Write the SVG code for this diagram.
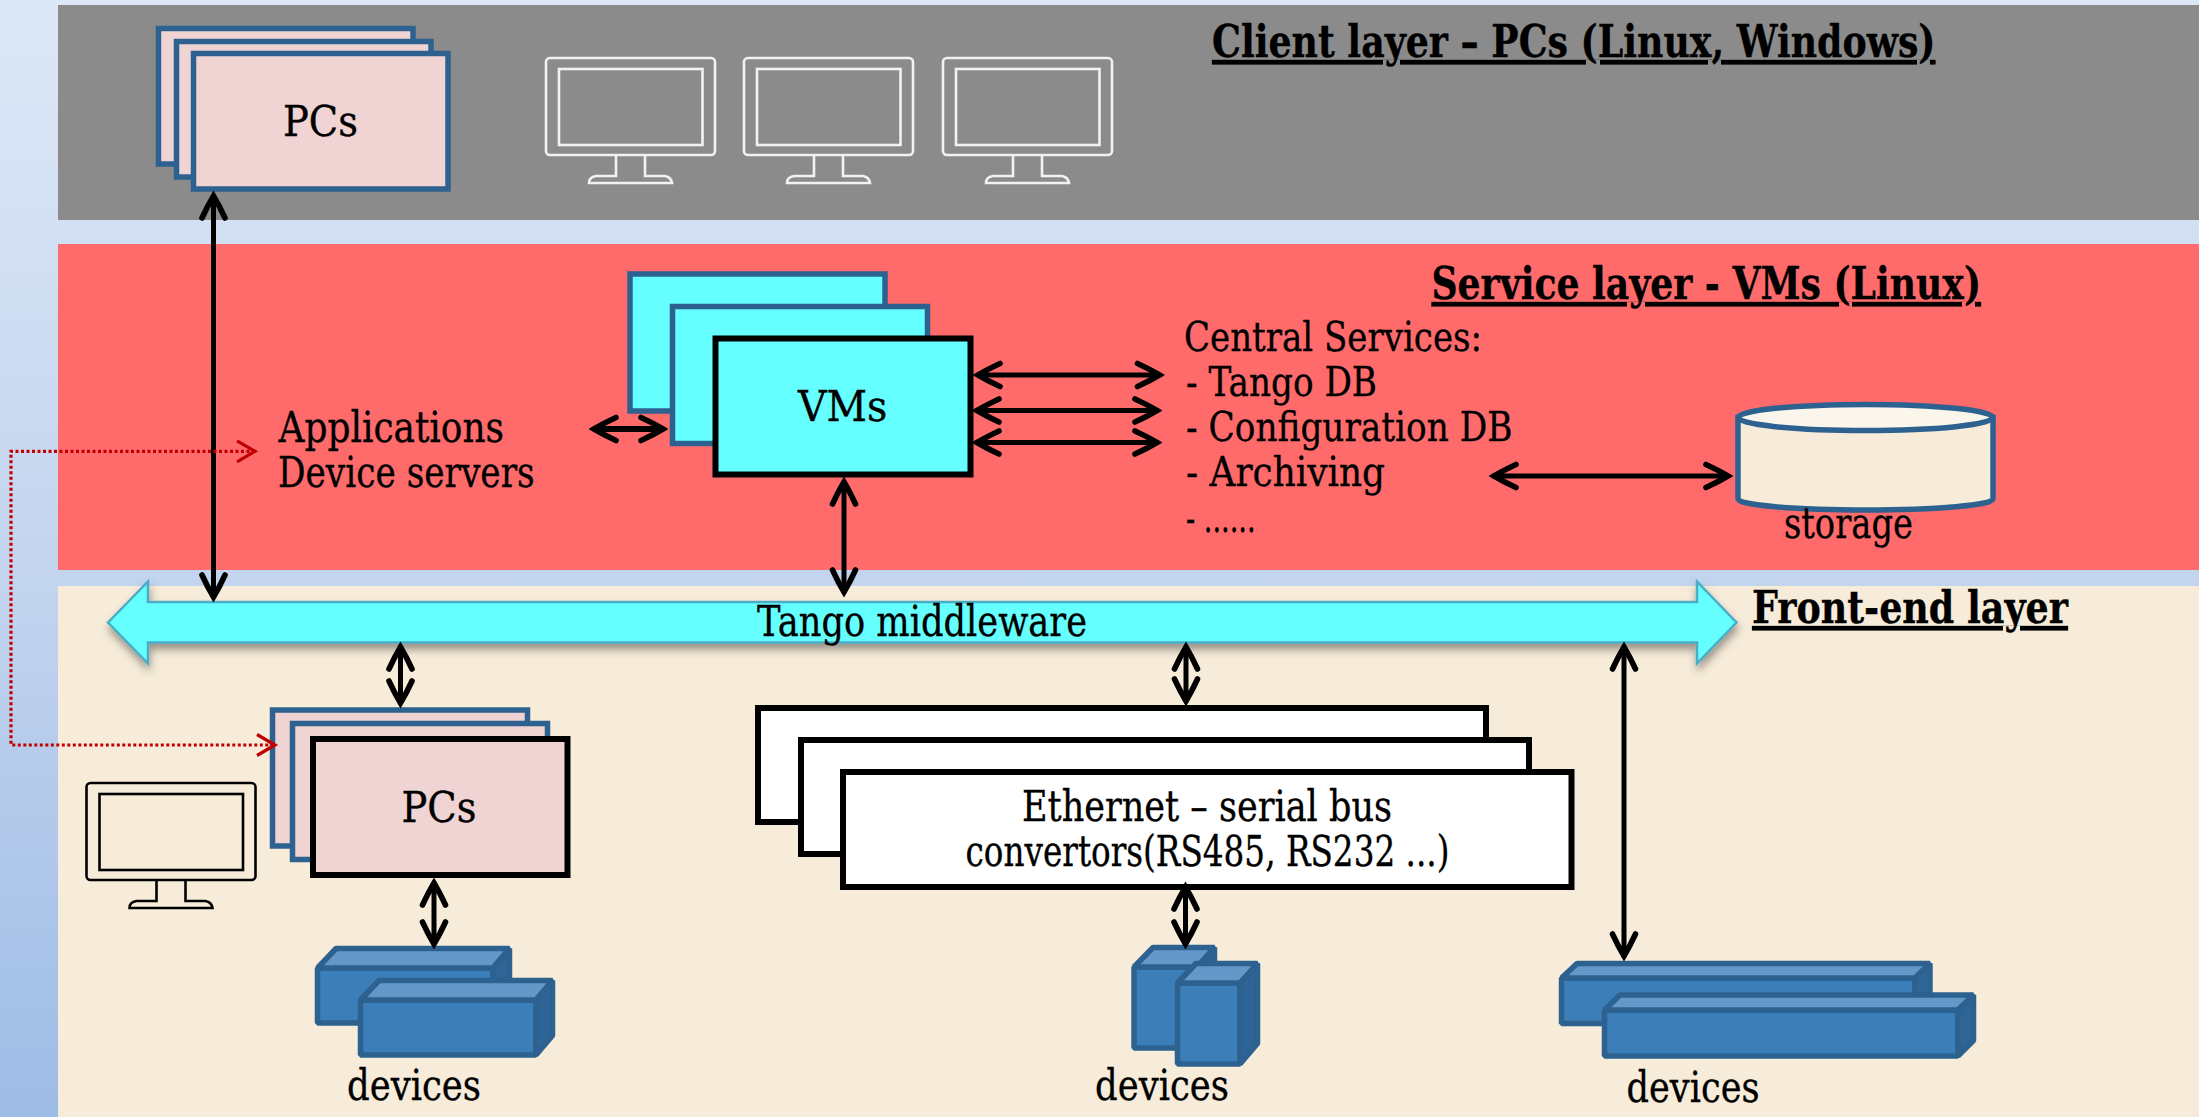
<svg xmlns="http://www.w3.org/2000/svg" xmlns:xlink="http://www.w3.org/1999/xlink" width="2199" height="1117" viewBox="0 0 2199 1117">
<style>
text{font-family:"DejaVu Serif","Liberation Serif",serif;font-size:42px;fill:#000;stroke:#000;stroke-width:.35}
.h{font-weight:bold;text-decoration:underline;font-size:44px}
.cs{font-size:41px}
.pc{fill:#f0d3d3}.vm{fill:#66ffff}.et{fill:#fff}
.bl{stroke:#2c6190;stroke-width:5.5}.bk{stroke:#000;stroke-width:6}
.mon{fill:none;stroke-width:2.6}
.conn line{stroke:#000;stroke-width:5;marker-start:url(#ah);marker-end:url(#ah)}
.front{fill:#3b7eb8}.top{fill:#6398c8}.side{fill:#2f6496}
.cube path{stroke:#2c6190;stroke-width:5.5;stroke-linejoin:bevel}
</style>
<defs>
<linearGradient id="bg" x1="0" y1="0" x2="0" y2="1"><stop offset="0" stop-color="#dde8f7"/><stop offset=".52" stop-color="#c3d4ee"/><stop offset="1" stop-color="#9dbce6"/></linearGradient>
<filter id="sh" x="-5%" y="-30%" width="110%" height="170%"><feDropShadow dx="1" dy="6" stdDeviation="4" flood-color="#000" flood-opacity=".38"/></filter>
<marker id="ah" markerUnits="userSpaceOnUse" markerWidth="36" markerHeight="32" refX="25" refY="16" orient="auto-start-reverse"><path d="M4,4.500Q16,10 26,16Q16,22 4,27.500" fill="none" stroke="#000" stroke-width="5.600" stroke-linecap="round"/></marker>
<marker id="rh" markerUnits="userSpaceOnUse" markerWidth="26" markerHeight="28" refX="20" refY="14" orient="auto-start-reverse"><path d="M2,3.500L20,14L2,24.500" fill="none" stroke="#c00000" stroke-width="3.200"/></marker>
<g id="monitor"><rect x="546" y="58" width="169" height="97" rx="4"/><rect x="559" y="69" width="143.500" height="76"/><path d="M616,155V176H596Q589,177 589,183H672Q671,177 665,176H645V155"/></g>
</defs>
<rect width="2199" height="1117" fill="url(#bg)"/>
<rect id="client-layer" x="58" y="5" width="2141" height="215" fill="#8b8b8b"/>
<rect id="service-layer" x="58" y="244" width="2141" height="326" fill="#ff6b6b"/>
<rect id="frontend-layer" x="58" y="586" width="2141" height="531" fill="#f7ecd9"/>

<g id="client-title"><text class="h" x="1212" y="57" textLength="723.500" lengthAdjust="spacingAndGlyphs">Client layer – PCs (Linux, Windows)</text></g>
<g id="service-title"><text class="h" x="1431.500" y="299" textLength="549.500" lengthAdjust="spacingAndGlyphs">Service layer - VMs (Linux)</text></g>
<g id="frontend-title"><text class="h" x="1752" y="623" textLength="316" lengthAdjust="spacingAndGlyphs">Front-end layer</text></g>

<g id="pcs-client">
<rect class="pc bl" x="158.500" y="28.500" width="254.500" height="135.500"/>
<rect class="pc bl" x="176.500" y="41.500" width="254.500" height="135.500"/>
<rect class="pc bl" x="193.500" y="53.500" width="254.500" height="135.500"/>
<text x="283" y="136" textLength="75" lengthAdjust="spacingAndGlyphs">PCs</text>
</g>
<g id="monitors" class="mon" stroke="#f2f2f2">
<use xlink:href="#monitor" href="#monitor"/>
<use xlink:href="#monitor" href="#monitor" x="198"/>
<use xlink:href="#monitor" href="#monitor" x="397"/>
</g>

<g id="apps"><text x="278.500" y="442" textLength="225.500" lengthAdjust="spacingAndGlyphs">Applications</text><text x="278" y="487" textLength="256.700" lengthAdjust="spacingAndGlyphs">Device servers</text></g>
<g id="vms">
<rect class="vm bl" x="630" y="274" width="255" height="137"/>
<rect class="vm bl" x="672.500" y="306.500" width="255" height="137"/>
<rect class="vm bk" x="715.500" y="338.500" width="255" height="136"/>
<text x="798" y="421" textLength="89.400" lengthAdjust="spacingAndGlyphs">VMs</text>
</g>
<g id="central-services">
<text class="cs" x="1184" y="351" textLength="298" lengthAdjust="spacingAndGlyphs">Central Services:</text>
<text class="cs" x="1186" y="396" textLength="191" lengthAdjust="spacingAndGlyphs">- Tango DB</text>
<text class="cs" x="1186" y="441" textLength="326.500" lengthAdjust="spacingAndGlyphs">- Configuration DB</text>
<text class="cs" x="1186" y="486" textLength="199" lengthAdjust="spacingAndGlyphs">- Archiving</text>
<text class="cs" x="1186" y="532" textLength="69.600" lengthAdjust="spacingAndGlyphs">- ......</text>
</g>
<g id="storage">
<path d="M1738,417.500V499A127.500,11 0 0 0 1993,499V417.500Z" fill="#f7ecd9" stroke="#2c6190" stroke-width="5.500"/>
<ellipse cx="1865.500" cy="417.500" rx="127.500" ry="13" fill="#fbf6ec" stroke="#2c6190" stroke-width="5.500"/>
<text x="1784" y="538" textLength="129" lengthAdjust="spacingAndGlyphs">storage</text>
</g>

<g id="tango">
<polygon points="108,622.500 148,581.500 148,602 1697,602 1697,581.500 1736.500,622.500 1697,663.500 1697,642.500 148,642.500 148,663.500" fill="#66ffff" stroke="#4bacc6" stroke-width="2.500" filter="url(#sh)"/>
<text x="757" y="636" textLength="330" lengthAdjust="spacingAndGlyphs">Tango middleware</text>
</g>

<g id="pcs-frontend">
<rect class="pc bl" x="272.500" y="710" width="255" height="136"/>
<rect class="pc bl" x="292.500" y="723.500" width="255" height="136"/>
<rect class="pc bk" x="313" y="739" width="254.500" height="136"/>
<text x="401.500" y="822" textLength="75" lengthAdjust="spacingAndGlyphs">PCs</text>
</g>
<g id="monitor-frontend" class="mon" stroke="#000"><use xlink:href="#monitor" href="#monitor" x="-459.500" y="725"/></g>

<g id="convertors">
<rect class="et bk" x="758" y="708" width="728" height="114"/>
<rect class="et bk" x="801" y="740" width="728" height="114"/>
<rect class="et bk" x="843" y="772" width="728.500" height="115"/>
<text x="1022" y="821" textLength="370" lengthAdjust="spacingAndGlyphs">Ethernet – serial bus</text>
<text x="965.500" y="865.500" textLength="484" lengthAdjust="spacingAndGlyphs">convertors(RS485, RS232 ...)</text>
</g>

<g id="devices-1" class="cube">
<path class="front" d="M317.500,968H493V1023H317.500Z"/><path class="top" d="M317.500,968L336,948.500H509.500L493,968Z"/><path class="side" d="M493,968L509.500,948.500V1003.500L493,1023Z"/>
<path class="front" d="M360.500,1000H536V1055H360.500Z"/><path class="top" d="M360.500,1000L379,980.500H552.500L536,1000Z"/><path class="side" d="M536,1000L552.500,980.500V1035.500L536,1055Z"/>
<text x="347" y="1099.500" textLength="134" lengthAdjust="spacingAndGlyphs">devices</text>
</g>
<g id="devices-2" class="cube">
<path class="front" d="M1134,967H1197V1048H1134Z"/><path class="top" d="M1134,967L1153,947.500H1214.500L1197,967Z"/><path class="side" d="M1197,967L1214.500,947.500V1027.500L1197,1048Z"/>
<path class="front" d="M1177.500,983H1240V1064H1177.500Z"/><path class="top" d="M1177.500,983L1196,963.500H1257.500L1240,983Z"/><path class="side" d="M1240,983L1257.500,963.500V1043.500L1240,1064Z"/>
<text x="1095" y="1099.500" textLength="134" lengthAdjust="spacingAndGlyphs">devices</text>
</g>
<g id="devices-3" class="cube">
<path class="front" d="M1561.500,978H1915V1023.500H1561.500Z"/><path class="top" d="M1561.500,978L1577,963.500H1930L1915,978Z"/><path class="side" d="M1915,978L1930,963.500V1008.500L1915,1023.500Z"/>
<path class="front" d="M1604.500,1010H1958V1056H1604.500Z"/><path class="top" d="M1604.500,1010L1620,995H1973.500L1958,1010Z"/><path class="side" d="M1958,1010L1973.500,995V1040.500L1958,1056Z"/>
<text x="1626.500" y="1101.500" textLength="133" lengthAdjust="spacingAndGlyphs">devices</text>
</g>

<g id="connectors" class="conn">
<line x1="213.500" y1="197" x2="213.500" y2="596"/>
<line x1="844" y1="483" x2="844" y2="591"/>
<line x1="595" y1="429" x2="662" y2="429" style="stroke-width:6"/>
<line x1="979" y1="375" x2="1158.500" y2="375"/>
<line x1="978" y1="410.500" x2="1156" y2="410.500"/>
<line x1="978" y1="442.500" x2="1156" y2="442.500"/>
<line x1="1495" y1="476" x2="1727" y2="476"/>
<line x1="400.500" y1="648" x2="400.500" y2="702"/>
<line x1="434" y1="884" x2="434" y2="943"/>
<line x1="1186" y1="648" x2="1186" y2="700"/>
<line x1="1185.500" y1="888" x2="1185.500" y2="943"/>
<line x1="1624" y1="648" x2="1624" y2="955"/>
<polyline points="255,451.300 11,451.300 11,745 275,745" fill="none" stroke="#c00000" stroke-width="3.200" stroke-dasharray="3 2.500" style="marker-start:url(#rh);marker-end:url(#rh)"/>
</g>
</svg>
